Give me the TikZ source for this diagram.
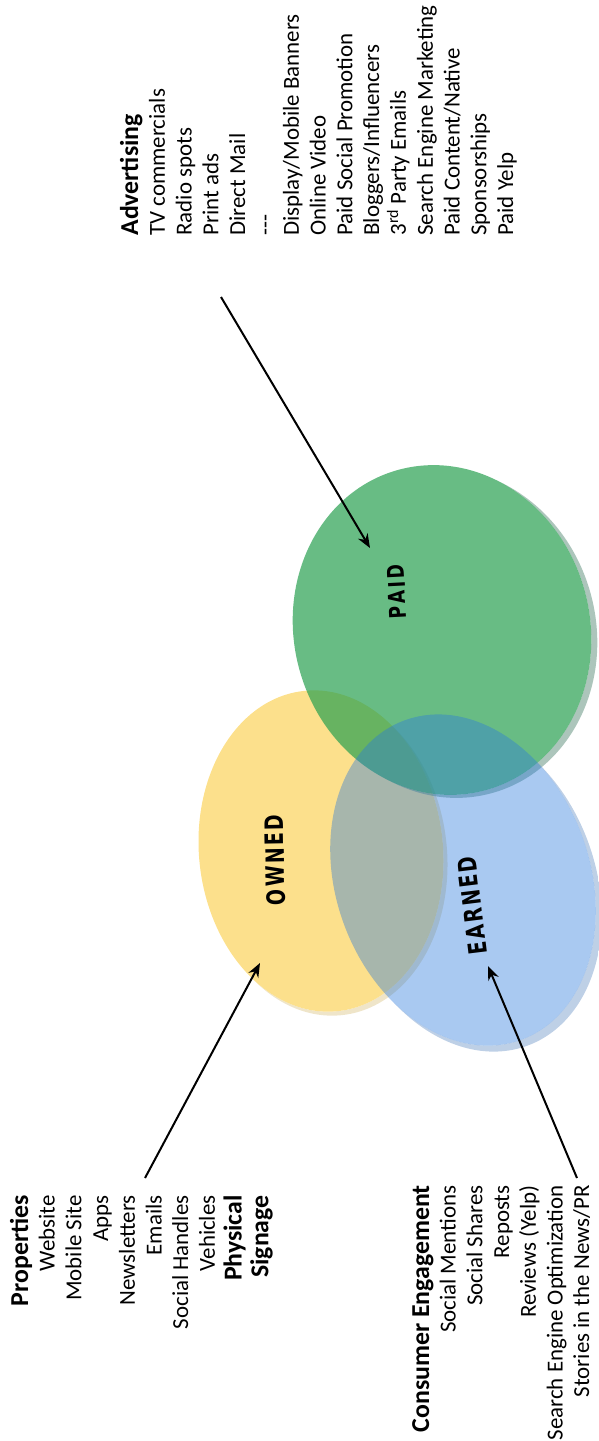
\documentclass[tikz,border=0pt]{standalone}
\usepackage{fontspec}
\setmainfont{Carlito}
\newfontfamily\lblfont{DejaVu Sans}
\usetikzlibrary{arrows.meta}
\definecolor{yellowc}{RGB}{252,224,140}
\definecolor{yellowrim}{RGB}{215,190,120}
\definecolor{greenc}{RGB}{40,160,80}
\definecolor{greenrim}{RGB}{90,140,120}
\definecolor{bluec}{RGB}{40,120,220}
\definecolor{bluerim}{RGB}{110,150,200}
\newcommand\leftlines[1]{\vtop{\baselineskip=13.4pt\lineskiplimit=-20pt\halign{##\hfil\cr#1\crcr}}}
\newcommand\rightlines[1]{\vtop{\baselineskip=13.35pt\lineskiplimit=-20pt\halign{\hfil##\cr#1\crcr}}}
\newcommand\hd[1]{{\fontsize{12.9}{13.4}\selectfont\bfseries #1}}
\newcommand\lbltext[1]{\scalebox{0.86}[1.15]{#1}}
\newcommand\lk{\kern1.4pt}
\begin{document}
\begin{tikzpicture}[x=0.5pt,y=-0.5pt,
  txt/.style={rotate=90,inner sep=0pt,font=\fontsize{11.45}{13.4}\selectfont},
  lbl/.style={inner sep=0pt,font=\lblfont\bfseries\fontsize{11}{11}\selectfont},
  arr/.style={line width=1pt,-{Stealth[length=7pt,width=5.5pt]}},
  rim/.style={even odd rule}]
\useasboundingbox (0,0) rectangle (599,1441);
% OWNED ellipse
\begin{scope}
\clip[rotate around={6:(325,855)}] (325,855) ellipse [x radius=61pt,y radius=80.5pt];
\fill[yellowrim,fill opacity=0.4,rim,rotate around={6:(321,851)}] (321,851) ellipse [x radius=61pt,y radius=80.5pt] (-300,-300) rectangle (900,1800);
\end{scope}
\fill[yellowc,rotate around={6:(321,851)}] (321,851) ellipse [x radius=61pt,y radius=80.5pt];
% PAID ellipse
\begin{scope}
\clip[rotate around={15:(448,633)}] (448,633) ellipse [x radius=74pt,y radius=83pt];
\fill[greenrim,fill opacity=0.5,rim,rotate around={15:(442,630)}] (442,630) ellipse [x radius=74pt,y radius=83pt] (-300,-300) rectangle (900,1800);
\end{scope}
\fill[greenc,fill opacity=0.7,rotate around={15:(442,630)}] (442,630) ellipse [x radius=74pt,y radius=83pt];
% EARNED ellipse
\begin{scope}
\clip[rotate around={20:(469,886)}] (469,886) ellipse [x radius=63.5pt,y radius=85pt];
\fill[bluerim,fill opacity=0.45,rim,rotate around={20:(463,880)}] (463,880) ellipse [x radius=63.5pt,y radius=85pt] (-300,-300) rectangle (900,1800);
\end{scope}
\fill[bluec,fill opacity=0.4,rotate around={20:(463,880)}] (463,880) ellipse [x radius=63.5pt,y radius=85pt];
% labels
\node[lbl,rotate=91] (ownedlbl) at (275,860) {\lbltext{O\lk W\lk N\lk E\lk D}};
\node[lbl,rotate=97] (earnedlbl) at (472,906) {\lbltext{E\lk A\lk R\lk N\lk E\lk D}};
\node[lbl,rotate=93,font=\lblfont\bfseries\fontsize{10}{10}\selectfont] (paidlbl) at (397,592) {\lbltext{P\lk A\lk I\lk D}};
% text blocks
\node[txt,anchor=base west] (adv) at (138,236) {\leftlines{\hd{Advertising}\cr
TV commercials\cr Radio spots\cr Print ads\cr Direct Mail\cr {-}{-}{-}\cr
Display/Mobile Banners\cr Online Video\cr Paid Social Promotion\cr
Bloggers/Influencers\cr 3\textsuperscript{rd} Party Emails\cr
Search Engine Marketing\cr Paid Content/Native\cr Sponsorships\cr Paid Yelp}};
\node[txt,anchor=base east] (props) at (28,1195) {\rightlines{\hd{Properties}\cr
Website\cr Mobile Site\cr Apps\cr Newsletters\cr Emails\cr Social Handles\cr
Vehicles\cr \hd{Physical}\cr \hd{Signage}}};
\node[txt,anchor=base east] (cons) at (429,1185) {\rightlines{\hd{Consumer Engagement}\cr
Social Mentions\cr Social Shares\cr Reposts\cr Reviews (Yelp)\cr
Search Engine Optimization\cr Stories in the News/PR}};
% arrows
\coordinate (pa0) at (221,297);
\coordinate (pa1) at (370,548);
\coordinate (oa0) at (145,1178);
\coordinate (oa1) at (260,963);
\coordinate (ea0) at (577,1178);
\coordinate (ea1) at (488,966);
\draw[arr] (pa0) -- (pa1);
\draw[arr] (oa0) -- (oa1);
\draw[arr] (ea0) -- (ea1);
\end{tikzpicture}
\end{document}
